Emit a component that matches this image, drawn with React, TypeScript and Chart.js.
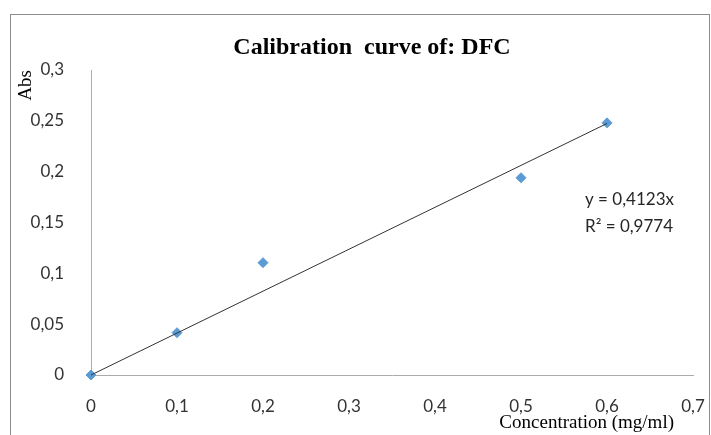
import React, { useEffect, useRef } from "react";
import { Chart, registerables } from "chart.js";

Chart.register(...registerables);

const concentrations = [0, 0.1, 0.2, 0.5, 0.6];
const absorbances = [0, 0.0416, 0.1105, 0.194, 0.248];
const trendX = [0, 0.6];
const trendY = [0, 0.2474];
const xTickLabels = ["0", "0,1", "0,2", "0,3", "0,4", "0,5", "0,6", "0,7"];
const yTickLabels = ["0", "0,05", "0,1", "0,15", "0,2", "0,25", "0,3"];
const chartTitle = "Calibration  curve of: DFC";
const xTitle = "Concentration (mg/ml)";
const yTitle = "Abs";
const equationLines = ["y = 0,4123x", "R\u00B2 = 0,9774"];

const W = 711;
const H = 435;

const overlay = {
  id: "overlay",
  afterDraw(chart: any) {
    const ctx = chart.ctx;
    ctx.save();
    // frame
    ctx.strokeStyle = "#8c8c8c";
    ctx.lineWidth = 1;
    ctx.strokeRect(10.5, 14.5, 699, 440);
    // title
    ctx.fillStyle = "#000";
    ctx.font = "bold 24px 'Liberation Serif', 'Times New Roman', serif";
    ctx.textAlign = "center";
    ctx.textBaseline = "alphabetic";
    ctx.fillText(chartTitle, 372, 54);
    // x title
    ctx.font = "19px 'Liberation Serif', 'Times New Roman', serif";
    ctx.textAlign = "right";
    ctx.fillText(xTitle, 674, 428);
    // y title
    ctx.save();
    ctx.translate(31, 70);
    ctx.rotate(-Math.PI / 2);
    ctx.textAlign = "right";
    ctx.fillText(yTitle, 0, 0);
    ctx.restore();
    // equation
    ctx.font = "17px Lato, 'Open Sans', sans-serif";
    ctx.fillStyle = "#262626";
    ctx.textAlign = "left";
    equationLines.forEach((t, i) => ctx.fillText(t, 585, 205 + i * 27));
    ctx.restore();
  },
};

export default function App() {
  const ref = useRef<HTMLCanvasElement>(null);
  useEffect(() => {
    if (!ref.current) return;
    const chart = new Chart(ref.current, {
      type: "scatter",
      data: {
        datasets: [
          {
            type: "line",
            label: "Trend",
            data: trendX.map((x, i) => ({ x, y: trendY[i] })),
            borderColor: "#333333",
            borderWidth: 1,
            pointRadius: 0,
            fill: false,
            clip: false,
          },
          {
            type: "scatter",
            label: "Abs",
            data: concentrations.map((x, i) => ({ x, y: absorbances[i] })),
            backgroundColor: "#5B9BD5",
            borderColor: "#5B9BD5",
            pointStyle: "rectRot",
            pointRadius: 5,
            pointHoverRadius: 5,
            clip: false,
          },
        ],
      },
      options: {
        animation: false,
        responsive: false,
        layout: { padding: { top: 70, right: 18, bottom: 0, left: 0 } },
        plugins: {
          legend: { display: false },
          tooltip: { enabled: false },
          title: { display: false },
        },
        scales: {
          x: {
            type: "linear",
            min: 0,
            max: 0.7,
            afterFit: (s: any) => {
              s.height = 60;
              s.paddingLeft = 0;
              s.paddingRight = 0;
            },
            grid: { display: false },
            border: { display: true, color: "#ababab", width: 1 },
            ticks: {
              stepSize: 0.1,
              padding: 13,
              color: "#333333",
              font: { family: "Lato, 'Open Sans', sans-serif", size: 17 },
              callback: (_v: any, i: number) => xTickLabels[i],
            },
          },
          y: {
            type: "linear",
            min: 0,
            max: 0.3,
            afterFit: (s: any) => {
              s.width = 91;
              s.paddingTop = 0;
              s.paddingBottom = 0;
            },
            grid: { display: false },
            border: { display: true, color: "#ababab", width: 1 },
            ticks: {
              stepSize: 0.05,
              padding: 19,
              color: "#333333",
              font: { family: "Lato, 'Open Sans', sans-serif", size: 17 },
              callback: (_v: any, i: number) => yTickLabels[i],
            },
          },
        },
      },
      plugins: [overlay],
    });
    return () => chart.destroy();
  }, []);
  return (
    <div style={{ position: "absolute", left: 0, top: 0, width: W, height: H, background: "#fff" }}>
      <canvas ref={ref} width={W} height={H} style={{ display: "block" }} />
    </div>
  );
}
